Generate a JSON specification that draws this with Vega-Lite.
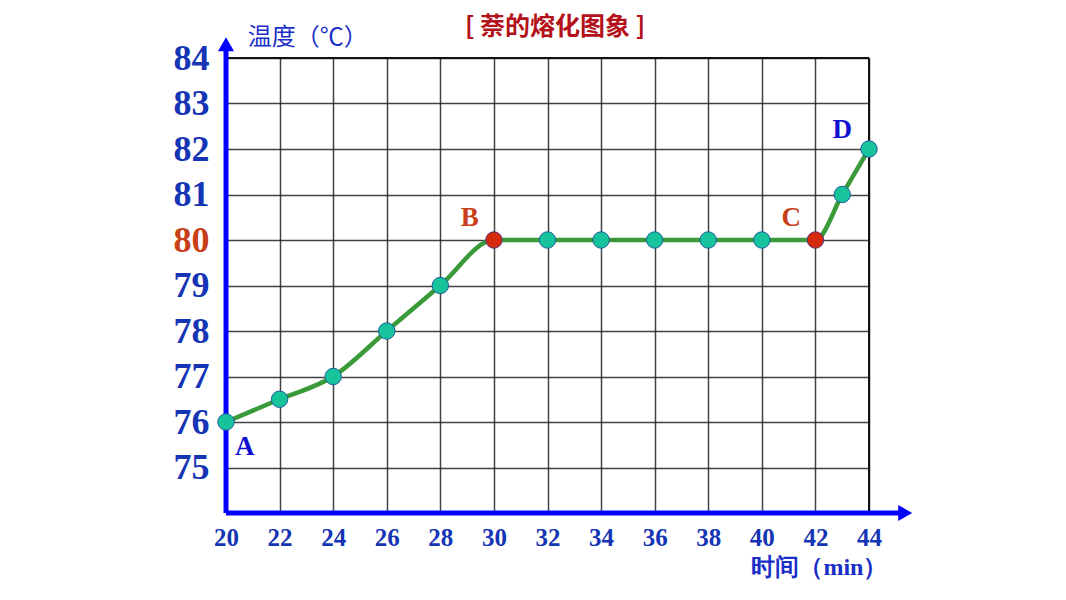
{
  "$schema": "https://vega.github.io/schema/vega-lite/v6.json",
  "autosize": {"type": "none"},
  "width": 643,
  "height": 455,
  "padding": {"left": 226, "top": 58, "right": 197, "bottom": 87},
  "background": "white",
  "config": {"view": {"stroke": null}},
  "datasets": {
    "pts": [
      {"t": 20, "temp": 76, "kind": "normal"},
      {"t": 22, "temp": 76.5, "kind": "normal"},
      {"t": 24, "temp": 77, "kind": "normal"},
      {"t": 26, "temp": 78, "kind": "normal"},
      {"t": 28, "temp": 79, "kind": "normal"},
      {"t": 30, "temp": 80, "kind": "key"},
      {"t": 32, "temp": 80, "kind": "normal"},
      {"t": 34, "temp": 80, "kind": "normal"},
      {"t": 36, "temp": 80, "kind": "normal"},
      {"t": 38, "temp": 80, "kind": "normal"},
      {"t": 40, "temp": 80, "kind": "normal"},
      {"t": 42, "temp": 80, "kind": "key"},
      {"t": 43, "temp": 81, "kind": "normal"},
      {"t": 44, "temp": 82, "kind": "normal"}
    ],
    "letters": [
      {"t": 20.7, "temp": 75.45, "label": "A", "c": "blue"},
      {"t": 29.1, "temp": 80.48, "label": "B", "c": "red"},
      {"t": 41.1, "temp": 80.48, "label": "C", "c": "red"},
      {"t": 43.0, "temp": 82.42, "label": "D", "c": "blue"}
    ]
  },
  "layer": [
    {
      "data": {"values": [{"a": 1}]},
      "mark": {"type": "point", "opacity": 0},
      "encoding": {
        "x": {
          "field": "a", "type": "quantitative",
          "scale": {"domain": [20, 44], "nice": false, "zero": false},
          "axis": {
            "values": [20, 22, 24, 26, 28, 30, 32, 34, 36, 38, 40, 42, 44],
            "grid": true, "gridColor": "#222222", "gridWidth": 1.5, "gridOpacity": 0.85,
            "domain": false, "ticks": false,
            "labelFont": "Liberation Serif", "labelFontWeight": "bold", "labelFontSize": 25,
            "labelColor": "#1535b5", "labelPadding": 12, "title": null, "labelFlush": false
          }
        },
        "y": {
          "field": "a", "type": "quantitative",
          "scale": {"domain": [74, 84], "nice": false, "zero": false},
          "axis": {
            "values": [74, 75, 76, 77, 78, 79, 80, 81, 82, 83, 84],
            "labelExpr": "datum.value == 74 ? '' : datum.label",
            "grid": true, "gridColor": "#222222", "gridWidth": 1.5, "gridOpacity": 0.85,
            "domain": false, "ticks": false,
            "labelFont": "Liberation Serif", "labelFontWeight": "bold", "labelFontSize": 36,
            "labelColor": {"condition": {"test": "datum.value == 80", "value": "#c8401a"}, "value": "#1535b5"},
            "labelPadding": 17, "title": null, "labelFlush": false
          }
        }
      }
    },
    {
      "data": {"values": [{"x1": 20, "x2": 44, "y1": 84, "y2": 84}, {"x1": 44, "x2": 44, "y1": 74, "y2": 84}]},
      "mark": {"type": "rule", "color": "#111111", "strokeWidth": 2},
      "encoding": {
        "x": {"field": "x1", "type": "quantitative"},
        "x2": {"field": "x2"},
        "y": {"field": "y1", "type": "quantitative"},
        "y2": {"field": "y2"}
      }
    },
    {
      "data": {"values": [{"x1": 20, "x2": 45.2, "y1": 74, "y2": 74}, {"x1": 20, "x2": 20, "y1": 74, "y2": 84.2}]},
      "mark": {"type": "rule", "color": "#0000ff", "strokeWidth": 5},
      "encoding": {
        "x": {"field": "x1", "type": "quantitative"},
        "x2": {"field": "x2"},
        "y": {"field": "y1", "type": "quantitative"},
        "y2": {"field": "y2"}
      }
    },
    {
      "data": {"values": [{"x": 45.35, "y": 74, "s": "triangle-right"}, {"x": 20, "y": 84.3, "s": "triangle-up"}]},
      "mark": {"type": "point", "filled": true, "color": "#0000ff", "opacity": 1, "size": 260},
      "encoding": {
        "x": {"field": "x", "type": "quantitative"},
        "y": {"field": "y", "type": "quantitative"},
        "shape": {"field": "s", "type": "nominal", "scale": null, "legend": null}
      }
    },
    {
      "data": {"name": "pts"},
      "mark": {"type": "line", "color": "#3a9a3a", "strokeWidth": 4.5, "interpolate": "monotone"},
      "encoding": {
        "x": {"field": "t", "type": "quantitative"},
        "y": {"field": "temp", "type": "quantitative"}
      }
    },
    {
      "data": {"name": "pts"},
      "mark": {"type": "point", "filled": true, "opacity": 1, "size": 270, "strokeWidth": 1},
      "encoding": {
        "x": {"field": "t", "type": "quantitative"},
        "y": {"field": "temp", "type": "quantitative"},
        "fill": {"field": "kind", "type": "nominal", "scale": {"domain": ["normal", "key"], "range": ["#17c39a", "#d42a0a"]}, "legend": null},
        "stroke": {"field": "kind", "type": "nominal", "scale": {"domain": ["normal", "key"], "range": ["#1a5fa0", "#5a2a80"]}, "legend": null}
      }
    },
    {
      "data": {"name": "letters"},
      "mark": {"type": "text", "font": "Liberation Serif", "fontWeight": "bold", "fontSize": 27, "align": "center", "baseline": "middle"},
      "encoding": {
        "x": {"field": "t", "type": "quantitative"},
        "y": {"field": "temp", "type": "quantitative"},
        "text": {"field": "label"},
        "color": {"field": "c", "type": "nominal", "scale": {"domain": ["blue", "red"], "range": ["#1010d0", "#c8401a"]}, "legend": null}
      }
    },
    {
      "data": {"values": [{"x": 23.05, "y": 84.44, "label": "温度（℃）"}]},
      "mark": {"type": "text", "fontSize": 24, "font": "Noto Sans CJK SC", "color": "#1a2fc8", "align": "center", "baseline": "middle"},
      "encoding": {
        "x": {"field": "x", "type": "quantitative"},
        "y": {"field": "y", "type": "quantitative"},
        "text": {"field": "label"}
      }
    },
    {
      "data": {"values": [{"x": 42.15, "y": 72.79, "label": "时间（min）"}]},
      "mark": {"type": "text", "fontSize": 24, "fontWeight": "bold", "font": "Liberation Serif", "color": "#1a2fc8", "align": "center", "baseline": "middle"},
      "encoding": {
        "x": {"field": "x", "type": "quantitative"},
        "y": {"field": "y", "type": "quantitative"},
        "text": {"field": "label"}
      }
    },
    {
      "data": {"values": [{"x": 32.28, "y": 84.68, "label": "[ 萘的熔化图象 ]"}]},
      "mark": {"type": "text", "fontSize": 25, "fontWeight": "bold", "font": "Noto Sans CJK SC", "color": "#b3121a", "align": "center", "baseline": "middle"},
      "encoding": {
        "x": {"field": "x", "type": "quantitative"},
        "y": {"field": "y", "type": "quantitative"},
        "text": {"field": "label"}
      }
    }
  ]
}
